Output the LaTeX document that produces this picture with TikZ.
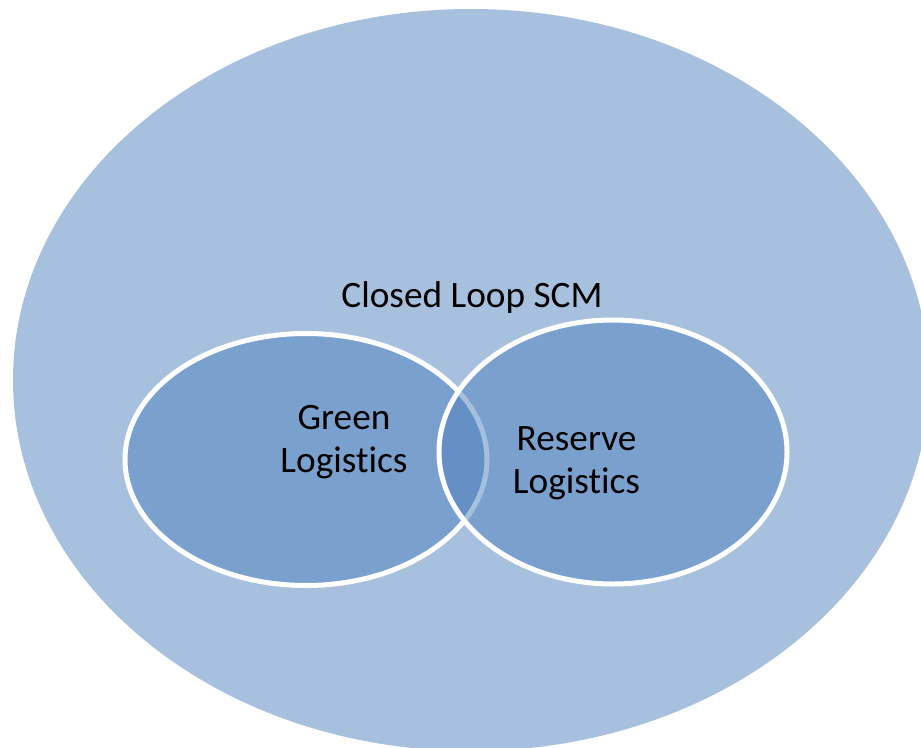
\documentclass[tikz,border=0pt]{standalone}
\usepackage{fontspec}
\setmainfont{Carlito}[Ligatures=NoCommon]
\usetikzlibrary{shapes.geometric}
\definecolor{accent}{RGB}{79,129,189}
\tikzset{
  blob/.style={ellipse, inner sep=0pt, fill=accent, fill opacity=0.5, draw opacity=1},
  inner/.style={blob, draw=white, line width=5pt},
  lbl/.style={font=\fontsize{37.3}{42.5}\selectfont, text=black, align=center, inner sep=0pt}
}
\begin{document}
\begin{tikzpicture}[x=1pt,y=-1pt]
\useasboundingbox (0,0) rectangle (921,747);
\node[blob, minimum width=916pt, minimum height=742pt] (scm) at (471,380) {};
\node[inner, minimum width=362pt, minimum height=252pt] (green) at (306,459.5) {};
\node[inner, minimum width=348pt, minimum height=264pt] (reserve) at (613,452) {};
\node[lbl, anchor=base] (scmlabel) at (472,307) {Closed Loop SCM};
\node[lbl, anchor=base] (greenlabel) at (344,472) {Green\\Logistics};
\node[lbl, anchor=base] (reservelabel) at (576.5,493) {Reserve\\Logistics};
\end{tikzpicture}
\end{document}
